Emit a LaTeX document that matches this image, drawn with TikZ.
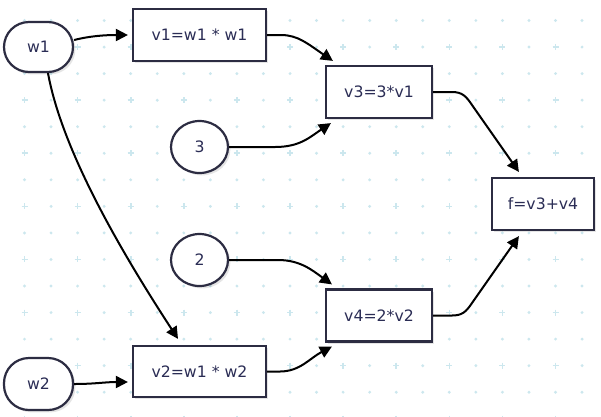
\documentclass[tikz,border=0pt]{standalone}
\usepackage{fontspec}
\setmainfont{DejaVu Sans}
\usetikzlibrary{arrows.meta,shapes.geometric,shadows,calc}
\definecolor{gridc}{HTML}{CCE7EE}
\definecolor{borderc}{HTML}{2C2C42}
\definecolor{labelc}{HTML}{2B2D55}

\begin{document}
\begin{tikzpicture}[x=1pt,y=-1pt,
  base/.style={draw=borderc, line width=2.2pt, fill=white, text=labelc,
    font=\fontsize{15.7}{18}\selectfont, inner sep=0pt,
    drop shadow={shadow xshift=2.4pt, shadow yshift=-2.4pt, opacity=0.10, fill=black}},
  opbox/.style={base, rectangle, minimum height=52pt},
  varnode/.style={base, rectangle, rounded corners=25pt, minimum width=69pt, minimum height=50pt},
  constnode/.style={base, ellipse, minimum width=57pt, minimum height=52pt},
  edge/.style={draw=black, line width=2pt, -{Triangle[length=12pt,width=12pt]}},
  gridplus/.style={draw=gridc, line width=1.6pt},
]
% canvas and background pattern
\useasboundingbox (0,0) rectangle (601,416);
\fill[white] (0,0) rectangle (601,416);
\foreach \i in {-1,...,22}{
  \foreach \j in {-1,...,15}{
    \pgfmathsetmacro{\gx}{24.5+26.55*\i}
    \pgfmathsetmacro{\gy}{20.5+26.55*\j}
    \pgfmathtruncatemacro{\isplus}{(mod(\i+2,2)==0) && (mod(\j+2,2)==1)}
    \ifnum\isplus=1
      \draw[gridplus] (\gx-3,\gy) -- (\gx+3,\gy) (\gx,\gy-3) -- (\gx,\gy+3);
    \else
      \fill[gridc] (\gx,\gy) circle (1.6pt);
    \fi
  }
}

% inputs and constants
\node[varnode] (w1) at (38.5,47) {w1};
\node[varnode, minimum height=52pt] (w2) at (38.5,384) {w2};
\node[constnode] (n3) at (199.5,147) {3};
\node[constnode] (n2) at (199.5,260) {2};

% operations
\node[opbox, minimum width=133pt] (v1) at (199.5,35) {v1=w1 * w1};
\node[opbox, minimum width=133pt, minimum height=51pt] (v2) at (199.5,371.5) {v2=w1 * w2};
\node[opbox, minimum width=106pt] (v3) at (379,92) {v3=3*v1};
\node[opbox, minimum width=106pt] (v4) at (379,315.5) {v4=2*v2};
\node[opbox, minimum width=102pt] (f) at (543,204) {f=v3+v4};

% connectors
\draw[edge] ($(w1.east)+(0,-7)$) .. controls (90,36) and (105,35) .. ($(v1.west)+(-4,0)$);
\draw[edge] (w2.east) .. controls (95,384) and (105,382) .. ($(v2.west)+(-4,10.5)$);
\draw[edge] ($(w1.south)+(9.5,0)$) .. controls (62,150) and (120,250) .. ($(v2.north)+(-21.5,-6)$);
\draw[edge] (v1.east) -- (281,35) .. controls (298,35) and (308,44) .. ($(v3.north west)+(8,-4)$);
\draw[edge] (n3.east) -- (275,147) .. controls (300,147) and (310,137) .. ($(v3.south west)+(6,4)$);
\draw[edge] (n2.east) -- (278,260) .. controls (300,260) and (312,270) .. ($(v4.north west)+(7,-4)$);
\draw[edge] (v2.east) -- (280,371.5) .. controls (300,371.5) and (310,358) .. ($(v4.south west)+(7,4)$);
\draw[edge] (v3.east) -- (452,92) .. controls (462,92) and (466,96) .. (472,105) -- ($(f.north west)+(28,-5)$);
\draw[edge] (v4.east) -- (452,315.5) .. controls (462,315.5) and (466,312) .. (472,303) -- ($(f.south west)+(28,5)$);
\end{tikzpicture}
\end{document}
